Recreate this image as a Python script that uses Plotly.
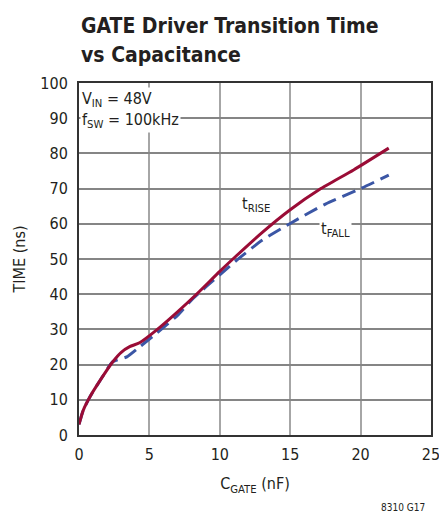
import plotly.graph_objects as go

# Data
c_rise = [0, 0.3, 0.8, 1.5, 2.4, 3.0, 3.6, 4.3, 5.5, 7.0, 8.4, 10.0, 11.2, 13.0, 15.0, 17.1, 19.5, 22.0]
t_rise = [3.0, 7.0, 11.0, 15.5, 20.8, 23.5, 25.1, 26.2, 29.8, 35.0, 40.2, 46.5, 51.0, 57.5, 64.0, 69.8, 75.3, 81.5]

c_fall = [0, 0.3, 0.8, 1.5, 2.4, 3.4, 4.3, 5.5, 7.0, 8.1, 10.0, 11.4, 13.0, 15.0, 17.5, 20.0, 22.0]
t_fall = [3.0, 7.0, 11.0, 15.5, 20.8, 22.2, 25.0, 28.9, 34.0, 38.8, 45.5, 50.3, 55.3, 60.1, 65.6, 70.0, 73.8]

x_ticks = [0, 5, 10, 15, 20, 25]
y_ticks = [0, 10, 20, 30, 40, 50, 60, 70, 80, 90, 100]

FONT = "DejaVu Sans Condensed, Liberation Sans Narrow, Liberation Sans, sans-serif"

fig = go.Figure()
fig.add_trace(go.Scatter(x=c_fall, y=t_fall, mode="lines", line=dict(color="#3B56A5", width=3, dash="14px,7px", shape="spline", smoothing=0.6), showlegend=False))
fig.add_trace(go.Scatter(x=c_rise, y=t_rise, mode="lines", line=dict(color="#9A0C36", width=3, shape="spline", smoothing=0.6), showlegend=False))

fig.update_layout(
    width=439, height=519,
    margin=dict(l=79, r=8, t=83, b=84),
    paper_bgcolor="white", plot_bgcolor="white",
    font=dict(family=FONT, size=16, color="#231F20"),
    xaxis=dict(range=[0, 25], tickvals=x_ticks, showgrid=True, gridcolor="#a6a6a6", gridwidth=1.5,
               showline=True, mirror=True, linecolor="#333333", linewidth=2, zeroline=False, ticks="",
               automargin=False, ticklabelstandoff=4, ticklabeloverflow="allow",
               title=dict(text="C<sub>GATE</sub> (nF)", font=dict(size=16), standoff=15)),
    yaxis=dict(range=[0, 100], tickvals=y_ticks, showgrid=True, gridcolor="#858585", gridwidth=1.5,
               showline=True, mirror=True, linecolor="#333333", linewidth=2, zeroline=False, ticks="",
               automargin=False, ticklabelstandoff=6, ticklabeloverflow="allow",
               title=dict(text="TIME (ns)", font=dict(size=16), standoff=11)),
)

fig.add_annotation(x=0, y=1, xref="paper", yref="paper", xanchor="left", yanchor="bottom", yshift=43, xshift=0,
                   align="left", text="<b>GATE Driver Transition Time</b>", showarrow=False,
                   font=dict(size=21, color="#231F20"))
fig.add_annotation(x=0, y=1, xref="paper", yref="paper", xanchor="left", yanchor="bottom", yshift=14, xshift=0,
                   align="left", text="<b>vs Capacitance</b>", showarrow=False,
                   font=dict(size=21, color="#231F20"))
fig.add_annotation(x=0.1, y=99, xref="x", yref="y", xanchor="left", yanchor="top", align="left",
                   text="V<sub>IN</sub> = 48V<br>f<sub>SW</sub> = 100kHz", showarrow=False, bgcolor="white",
                   font=dict(size=16))
fig.add_annotation(x=12.6, y=65.5, xref="x", yref="y", text="t<sub>RISE</sub>", showarrow=False, font=dict(size=16))
fig.add_annotation(x=18.2, y=58.5, xref="x", yref="y", text="t<sub>FALL</sub>", showarrow=False, bgcolor="white",
                   font=dict(size=16))
fig.add_annotation(x=1, y=0, xref="paper", yref="paper", xanchor="right", yanchor="middle", yshift=-72, xshift=-4,
                   text="8310 G17", showarrow=False, font=dict(size=10))

fig.write_html("out.html", config={"displayModeBar": False}, post_script="document.body.style.margin='0';")
